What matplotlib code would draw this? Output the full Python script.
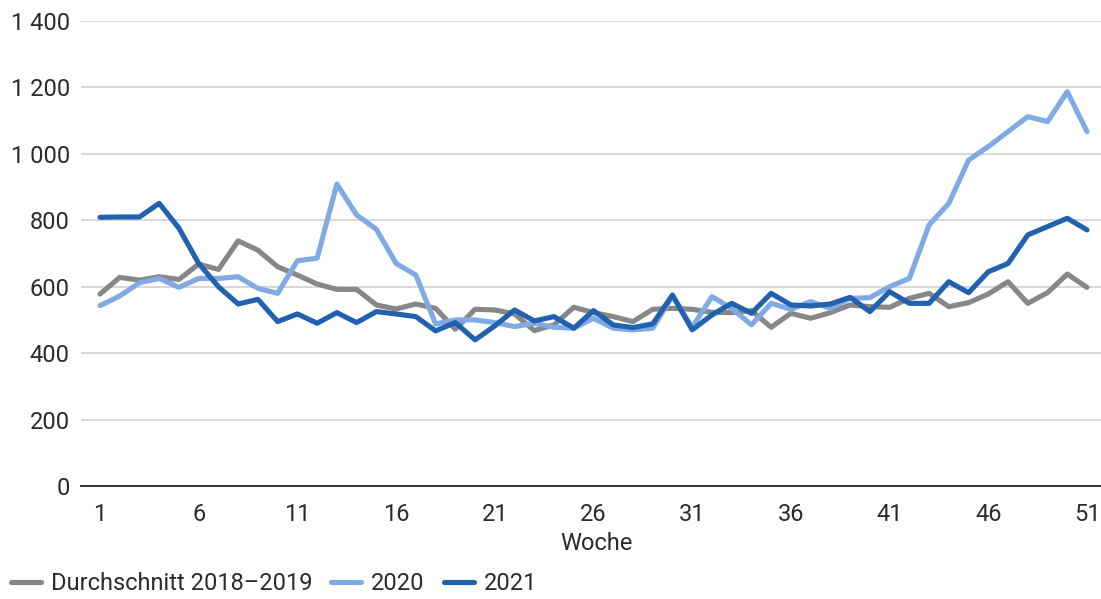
import matplotlib
matplotlib.use("Agg")
import matplotlib.pyplot as plt
from matplotlib.lines import Line2D

plt.rcParams['font.family'] = ['Roboto', 'DejaVu Sans']

weeks = list(range(1, 52))

avg_2018_2019 = [578, 628, 620, 630, 622, 668, 652, 738, 710, 660,
                 635, 608, 592, 592, 545, 533, 548, 535, 472, 532,
                 530, 518, 468, 485, 538, 522, 510, 495, 532, 535,
                 532, 523, 522, 528, 478, 520, 505, 522, 545, 540,
                 538, 565, 580, 540, 552, 578, 615, 550, 582, 638, 598]

y2020 = [543, 572, 612, 625, 598, 625, 625, 630, 595, 580,
         678, 686, 909, 816, 773, 670, 635, 488, 500, 500,
         492, 480, 490, 478, 475, 505, 475, 470, 475, 572,
         478, 570, 535, 485, 550, 532, 555, 535, 565, 567,
         600, 625, 786, 851, 981, 1022, 1067, 1112, 1097, 1187, 1067]

y2021 = [809, 810, 810, 851, 776, 670, 600, 548, 562, 495,
         518, 490, 522, 492, 525, 518, 510, 467, 492, 440,
         482, 530, 497, 510, 475, 528, 485, 477, 488, 575,
         470, 515, 550, 520, 580, 545, 542, 548, 568, 525,
         585, 550, 550, 615, 582, 645, 670, 756, 781, 806, 771]

series_names = ['Durchschnitt 2018\u20132019', '2020', '2021']
series_colors = ['#878787', '#7FAAE3', '#2161AE']

xtick_values = [1, 6, 11, 16, 21, 26, 31, 36, 41, 46, 51]
xtick_labels = ['1', '6', '11', '16', '21', '26', '31', '36', '41', '46', '51']
ytick_values = [0, 200, 400, 600, 800, 1000, 1200, 1400]
ytick_labels = ['0', '200', '400', '600', '800', '1 000', '1 200', '1 400']
x_label = 'Woche'

W, H = 1101, 599
fig = plt.figure(figsize=(W / 100, H / 100), dpi=100)
ax = fig.add_axes([81 / W, 1 - 486 / H, (W - 81) / W, (486 - 21) / H])

text_color = '#2b2b2b'
fs = 17

for vals, name, col in zip([avg_2018_2019, y2020, y2021], series_names, series_colors):
    ax.plot(weeks, vals, color=col, lw=3.7, solid_capstyle='round',
            solid_joinstyle='round', label=name)

ax.set_xlim(1 - 19 / 19.74, 51 + 14 / 19.74)
ax.set_ylim(0, 1400)
ax.set_yticks(ytick_values)
ax.set_yticklabels(ytick_labels)
ax.set_xticks(xtick_values)
ax.set_xticklabels(xtick_labels)
ax.tick_params(axis='both', length=0, labelsize=fs, labelcolor=text_color)
ax.tick_params(axis='y', pad=8)
ax.tick_params(axis='x', pad=12.5)

ax.grid(axis='y', color='#D4D4D4', lw=1.3)
ax.set_axisbelow(True)
for s in ['top', 'right', 'left']:
    ax.spines[s].set_visible(False)
ax.spines['bottom'].set_color('#333333')
ax.spines['bottom'].set_linewidth(1.4)
ax.spines['bottom'].set_zorder(3)

fig.text(596 / W, 1 - 543 / H, x_label, ha='center', va='center',
         fontsize=fs, color=text_color)

handles = [Line2D([], [], color=c, lw=3.7, solid_capstyle='round') for c in series_colors]
leg = fig.legend(handles, series_names, loc='center left',
                 bbox_to_anchor=(11 / W, 1 - 584 / H), ncol=3, frameon=False,
                 fontsize=fs, handlelength=1.27, handletextpad=0.42,
                 columnspacing=0.8, borderpad=0, borderaxespad=0)
for t in leg.get_texts():
    t.set_color(text_color)

fig.savefig('out.png', dpi=100)
